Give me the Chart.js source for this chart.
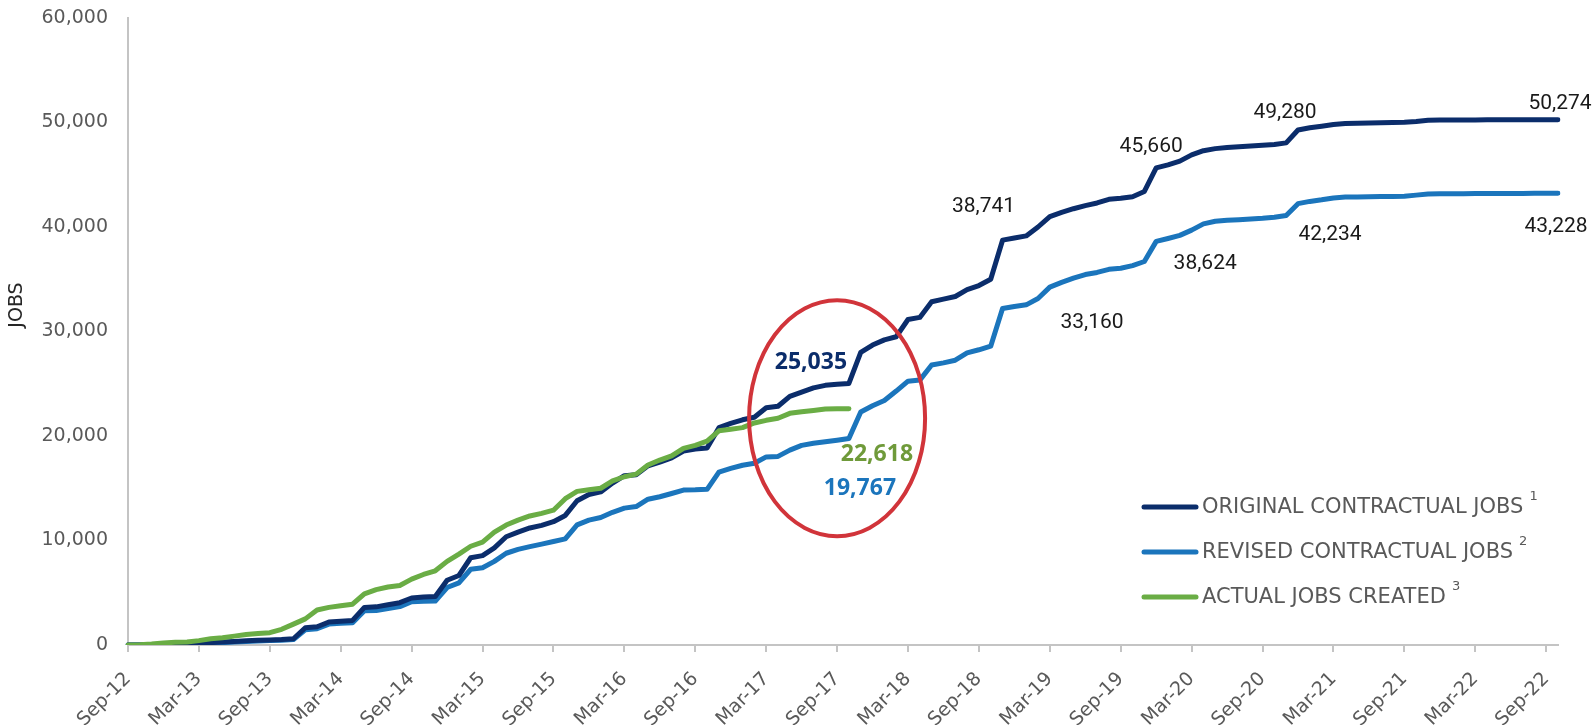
<!DOCTYPE html>
<html>
<head>
<meta charset="utf-8">
<script src="https://cdn.jsdelivr.net/npm/chart.js@4/dist/chart.umd.min.js"></script>
<style>
  html, body { margin: 0; padding: 0; background: #ffffff; }
  #wrap { width: 1596px; height: 725px; }
</style>
</head>
<body>
<div id="wrap"><canvas id="c" width="1596" height="725"></canvas></div>
<script>
// ---------- DATA ----------
const MONTH_NAMES = ['Jan','Feb','Mar','Apr','May','Jun','Jul','Aug','Sep','Oct','Nov','Dec'];
// Monthly categories Sep-12 .. Oct-22
const categories = [];
for (let k = 0; k < 122; k++) {
  const m = (8 + k) % 12;
  const y = 12 + Math.floor((8 + k) / 12);
  categories.push(MONTH_NAMES[m] + '-' + y);
}

const seriesNames = ['ORIGINAL CONTRACTUAL JOBS', 'REVISED CONTRACTUAL JOBS', 'ACTUAL JOBS CREATED'];
const footnoteMarks = ['1', '2', '3'];

const originalJobs = [
  0, 0, 20, 50, 80, 120, 170, 230, 290, 340, 400, 450,
  480, 520, 600, 1650, 1750, 2200, 2280, 2350, 3600, 3650, 3850, 4050,
  4500, 4600, 4650, 6200, 6650, 8350, 8550, 9300, 10360, 10800, 11200, 11450,
  11800, 12400, 13800, 14400, 14650, 15500, 16200, 16300, 17150, 17500, 17900, 18550,
  18750, 18850, 20800, 21200, 21550, 21800, 22700, 22850, 23800, 24200, 24600, 24850,
  24950, 25035, 28000, 28700, 29200, 29500, 31150, 31350, 32850, 33100, 33350, 34000,
  34400, 35000, 38741, 38950, 39150, 40000, 41000, 41400, 41750, 42050, 42300, 42650,
  42750, 42900, 43400, 45660, 45950, 46300, 46900, 47300, 47500, 47600, 47680, 47750,
  47820, 47900, 48050, 49280, 49500, 49650, 49800, 49900, 49930, 49950, 49970, 49990,
  50020, 50100, 50220, 50240, 50240, 50245, 50250, 50255, 50260, 50263, 50266, 50269,
  50272, 50274
];

const revisedJobs = [
  0, 0, 10, 30, 50, 90, 130, 180, 230, 280, 330, 380,
  420, 460, 520, 1450, 1560, 2000, 2070, 2120, 3280, 3310, 3500, 3670,
  4150, 4180, 4200, 5500, 5950, 7250, 7400, 8000, 8780, 9150, 9410, 9650,
  9900, 10150, 11500, 11950, 12200, 12700, 13100, 13250, 13950, 14190, 14500, 14830,
  14850, 14900, 16550, 16900, 17200, 17400, 18000, 18050, 18650, 19100, 19300, 19450,
  19600, 19767, 22300, 22900, 23400, 24300, 25250, 25350, 26800, 27000, 27250, 27950,
  28250, 28600, 32200, 32400, 32550, 33160, 34250, 34700, 35100, 35450, 35650, 35950,
  36050, 36300, 36700, 38624, 38900, 39200, 39700, 40300, 40550, 40650, 40700, 40770,
  40830, 40930, 41100, 42234, 42450, 42600, 42780, 42860, 42880, 42900, 42910, 42930,
  42950, 43050, 43150, 43170, 43180, 43190, 43195, 43200, 43205, 43210, 43215, 43220,
  43224, 43228
];

const actualJobs = [
  0, 30, 100, 200, 260, 290, 420, 600, 700, 850, 1000, 1100,
  1180, 1500, 2000, 2500, 3350, 3600, 3750, 3900, 4900, 5300, 5550, 5700,
  6300, 6750, 7100, 8000, 8700, 9450, 9850, 10800, 11480, 11950, 12350, 12600,
  12900, 14000, 14700, 14850, 15000, 15700, 16100, 16350, 17230, 17700, 18100, 18820,
  19100, 19500, 20500, 20650, 20800, 21250, 21500, 21700, 22170, 22330, 22450, 22580,
  22600, 22618
];

const yTicks = [0, 10000, 20000, 30000, 40000, 50000, 60000];

// ---------- STYLE ----------
const NAVY = '#0b2d6b';
const BLUE = '#1b75bc';
const GREEN = '#6aad45';
const GRAY_TEXT = '#595959';
const AXIS_GRAY = '#c4c4c4';

// Data labels: [datasetIndex, pointIndex, dx, dy, bold, color]
const dataLabelSpec = [
  [0, 61, -38, -21, true, NAVY],
  [2, 61, 28, 46, true, '#6f9a3a'],
  [1, 61, 11, 50, true, BLUE],
  [0, 74, -19, -33, false, '#1a1a1a'],
  [0, 87, -5, -21, false, '#1a1a1a'],
  [0, 99, -13, -17, false, '#1a1a1a'],
  [0, 121, 2, -16, false, '#1a1a1a'],
  [1, 77, 54, 24, false, '#1a1a1a'],
  [1, 87, 49, 22, false, '#1a1a1a'],
  [1, 99, 32, 31, false, '#1a1a1a'],
  [1, 121, -2, 33, false, '#1a1a1a']
];

const fmt = v => Number(v).toLocaleString('en-US');

const overlayPlugin = {
  id: 'overlay',
  afterDatasetsDraw(chart) {
    const ctx = chart.ctx;
    const xs = chart.scales.x, ys = chart.scales.y;
    ctx.save();
    // red ellipse around Sep-17
    const cx = xs.getPixelForValue(60);
    const cy = ys.getPixelForValue(21700);
    ctx.beginPath();
    ctx.ellipse(cx, cy, 88, 118, 0, 0, Math.PI * 2);
    ctx.strokeStyle = '#d1343a';
    ctx.lineWidth = 4;
    ctx.stroke();

    // data labels
    ctx.textAlign = 'center';
    ctx.textBaseline = 'middle';
    dataLabelSpec.forEach(([ds, idx, dx, dy, bold, color]) => {
      const pt = chart.getDatasetMeta(ds).data[idx];
      const val = chart.data.datasets[ds].data[idx];
      ctx.font = bold ? '700 23px "Open Sans"' : '21px Roboto';
      ctx.fillStyle = color;
      ctx.fillText(fmt(val), pt.x + dx, pt.y + dy);
    });

    // legend
    const rows = [507, 552, 597];
    chart.data.datasets.forEach((d, i) => {
      const y = rows[i];
      ctx.beginPath();
      ctx.moveTo(1144, y);
      ctx.lineTo(1196, y);
      ctx.strokeStyle = d.borderColor;
      ctx.lineWidth = 5;
      ctx.lineCap = 'round';
      ctx.stroke();
      ctx.textAlign = 'left';
      ctx.textBaseline = 'middle';
      ctx.font = '21px "DejaVu Sans"';
      ctx.fillStyle = GRAY_TEXT;
      ctx.fillText(d.label, 1202, y + 1);
      const w = ctx.measureText(d.label).width;
      ctx.font = '13px "DejaVu Sans"';
      ctx.fillText(footnoteMarks[i], 1202 + w + 6, y - 10);
    });

    // y-axis title
    ctx.save();
    ctx.translate(17, 305);
    ctx.rotate(-Math.PI / 2);
    ctx.textAlign = 'center';
    ctx.textBaseline = 'middle';
    ctx.font = '19px "DejaVu Sans"';
    ctx.fillStyle = '#262626';
    ctx.fillText('JOBS', 0, 0);
    ctx.restore();
    ctx.restore();
  }
};

new Chart(document.getElementById('c'), {
  type: 'line',
  data: {
    labels: categories,
    datasets: [
      { label: seriesNames[0], data: originalJobs, borderColor: NAVY, order: 1 },
      { label: seriesNames[1], data: revisedJobs, borderColor: BLUE, order: 2 },
      { label: seriesNames[2], data: actualJobs, borderColor: GREEN, order: 0 }
    ]
  },
  options: {
    responsive: false,
    animation: false,
    layout: { padding: { top: 18, right: 38, left: 0, bottom: 0 } },
    elements: {
      point: { radius: 0, hoverRadius: 0 },
      line: { borderWidth: 5, tension: 0, borderJoinStyle: 'round', borderCapStyle: 'round', fill: false }
    },
    plugins: { legend: { display: false }, tooltip: { enabled: false } },
    scales: {
      x: {
        type: 'category',
        offset: false,
        afterFit(s) { s.height = 80; s.paddingTop = 0; s.paddingBottom = 0; },
        border: { display: true, color: AXIS_GRAY, width: 2 },
        grid: {
          drawOnChartArea: false,
          drawTicks: true,
          tickLength: 7,
          lineWidth: 2,
          color: c => (c.index % 6 === 0 ? AXIS_GRAY : 'rgba(0,0,0,0)')
        },
        ticks: {
          autoSkip: false,
          maxRotation: 45,
          minRotation: 45,
          padding: 16,
          color: GRAY_TEXT,
          font: { family: '"DejaVu Sans"', size: 19 },
          callback: (v, i) => (i % 6 === 0 ? categories[i] : '')
        }
      },
      y: {
        min: 0,
        max: 60000,
        afterFit(s) { s.width = 128; s.paddingTop = 0; s.paddingBottom = 0; },
        afterBuildTicks(s) { s.ticks = yTicks.map(v => ({ value: v })); },
        border: { display: true, color: AXIS_GRAY, width: 2 },
        grid: { display: false, drawTicks: false },
        ticks: {
          padding: 20,
          color: GRAY_TEXT,
          font: { family: '"DejaVu Sans"', size: 19 },
          callback: v => fmt(v)
        }
      }
    }
  },
  plugins: [overlayPlugin]
});
</script>
</body>
</html>
